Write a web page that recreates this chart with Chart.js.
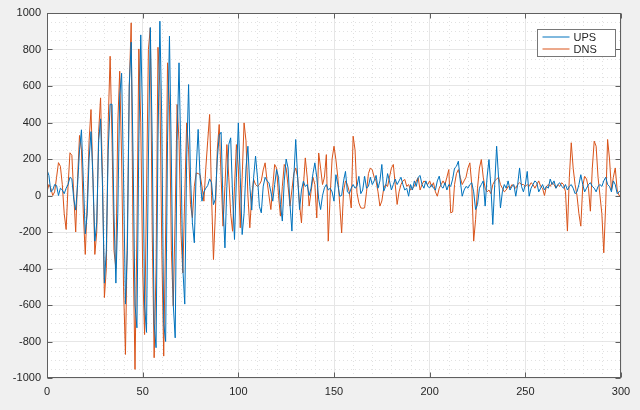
<!DOCTYPE html>
<html lang="en">
<head>
    <meta charset="UTF-8">
    <title>UPS / DNS</title>
    <script src="https://cdn.jsdelivr.net/npm/chart.js"></script>
    <style>
        body {
            margin: 0;
            background: #f0f0f0;
        }
        #wrap {
            width: 640px;
            height: 410px;
        }
    </style>
</head>
<body>
    <div id="wrap">
        <canvas id="sigChart" width="640" height="410"></canvas>
    </div>

    <script>
        // series values, one per sample 0..300
        const ups = [
            140, 110, 20, 30, 60, 55, 0, 40, 30, 10,
            40, 60, 100, 90, -20, -80, 60, 250, 360, 80,
            -210, -100, 200, 350, 100, -250, -150, 300, 420, 50,
            -480, -300, 250, 500, 500, -100, -480, -100, 550, 670,
            100, -595, -300, 600, 840, 200, -600, -725, 300, 880,
            400, -600, -750, 200, 920, 300, -700, -834, 300, 955,
            400, -700, -800, 300, 873, 200, -600, -780, 300, 727,
            200, -400, -595, 200, 608, 100, -150, -259, 150, 362,
            100, -31, 20, 40, 55, 91, 70, -50, -20, 200,
            330, 347, -50, -287, 50, 280, 316, 0, -241, 100,
            398, 100, -214, -100, 150, 270, 50, -80, 100, 216,
            100, -60, -95, 50, 100, 80, 70, 20, -31, 60,
            142, 100, -50, -140, 80, 200, 150, -50, -195, 100,
            307, 100, -77, 30, 78, 49, 60, 0, 40, 120,
            179, 100, -20, -77, 0, 42, 60, 30, 40, 20,
            -31, 114, 60, -4, 0, 80, 132, 20, 10, 40,
            60, 40, 50, 105, 10, 30, 105, 40, 50, 100,
            60, 80, 110, 40, 80, 170, 24, 50, 120, 80,
            30, 60, 90, 60, 80, 100, 60, 30, 40, -4,
            60, 30, 80, 50, 100, 110, 60, 40, 80, 50,
            42, 60, 40, 30, 80, 106, 50, 40, 70, 30,
            60, 50, 90, 150, 160, 188, 80, -4, 30, 50,
            40, 60, 70, 20, -77, -50, 40, 60, 80, -58,
            100, 197, 50, -159, 60, 270, 100, -68, 20, 60,
            40, 80, 30, 50, 60, -4, 60, 151, 50, 20,
            60, 132, -4, 40, 60, 80, 70, 20, 40, 60,
            30, 50, 40, 90, 60, 80, 40, 60, 70, 50,
            40, 60, 30, 50, 60, 40, 10, 20, 60, 114,
            60, 20, 40, 60, 70, 50, 40, 20, 50, 60,
            50, 80, 100, 60, 50, 20, 80, 60, 10, 20,
            30
        ];

        const dns = [
            20, 60, 40, 0, 20, 100, 180, 160, 60, -100,
            -186, 50, 234, 220, 0, -200, 100, 329, 250, -100,
            -323, -50, 300, 471, 100, -323, -200, 350, 535, 100,
            -559, -400, 400, 763, 300, -300, -400, 400, 681, 200,
            -500, -871, -200, 600, 946, -300, -953, -200, 803, 400,
            -400, -762, 0, 800, 919, -200, -889, -400, 812, 600,
            -300, -880, -200, 727, 500, -300, -606, -100, 499, 300,
            -200, -424, 0, 398, 250, -50, -122, 50, 124, 120,
            115, 50, -31, 150, 300, 444, 0, -351, -100, 250,
            389, 100, -168, 50, 279, 100, -100, -196, 50, 279,
            150, -177, 100, 398, 300, 0, -177, 0, 88, 60,
            50, 60, 80, 140, 179, 80, 0, -77, 50, 170,
            150, 0, -113, 50, 170, 150, 50, -58, 30, 120,
            151, 100, -50, -150, 50, 206, 100, -58, 20, 100,
            60, -123, 233, 150, 60, 100, 224, -250, 0, 200,
            270, 196, 100, -50, -205, 24, 80, 60, 20, -68,
            325, 250, 15, -40, -68, -70, -68, 20, 120, 151,
            140, 100, 80, 20, -58, -30, 40, 60, 50, 100,
            150, 170, 60, -49, 20, 60, 80, 88, 50, 60,
            30, 40, 50, 80, 97, 30, 60, 80, 70, 60,
            80, 50, 70, 20, -4, 40, 60, 80, 60, 100,
            142, -95, -90, 60, 120, 142, 100, 60, 80, 100,
            150, 179, 60, -250, -132, 40, 150, 197, 100, 40,
            20, 30, 10, 60, 80, 90, 100, 60, 40, 20,
            30, 50, 40, 60, 50, 40, 60, 70, 60, 60,
            50, 60, 50, 70, 60, 40, 60, 80, 50, 40,
            0, 50, 60, 50, 70, 60, 40, 60, 50, 70,
            60, 20, -195, 100, 289, 150, 60, 0, -100, -168,
            50, 105, 90, 40, -86, 150, 298, 270, 100, 0,
            -100, -314, -50, 307, 200, 32, 100, 151, 30, 0,
            0
        ];

        const seriesNames = ['UPS', 'DNS'];
        const seriesColors = ['#0072bd', '#d95319'];

        // axis ranges / tick steps
        const xRange = [0, 300];
        const yRange = [-1000, 1000];
        const xMajor = 50, xMinor = 10;
        const yMajor = 200, yMinor = 50;

        const axisColor = '#5f5f5f';

        // white axes background, dotted minor grid, box + inward ticks, legend
        const matlabAxes = {
            id: 'matlabAxes',
            beforeDraw(chart) {
                const a = chart.chartArea;
                const ctx = chart.ctx;
                ctx.save();
                ctx.fillStyle = '#ffffff';
                ctx.fillRect(a.left, a.top, a.right - a.left, a.bottom - a.top);
                ctx.restore();
            },
            beforeDatasetsDraw(chart) {
                const a = chart.chartArea;
                const ctx = chart.ctx;
                const sx = chart.scales.x, sy = chart.scales.y;
                ctx.save();
                ctx.strokeStyle = '#e1e1e1';
                ctx.lineWidth = 1;
                ctx.setLineDash([1, 3]);
                for (let v = xRange[0]; v <= xRange[1]; v += xMinor) {
                    if (v % xMajor === 0) continue;
                    const px = Math.round(sx.getPixelForValue(v)) + 0.5;
                    ctx.beginPath();
                    ctx.moveTo(px, a.top);
                    ctx.lineTo(px, a.bottom);
                    ctx.stroke();
                }
                for (let v = yRange[0]; v <= yRange[1]; v += yMinor) {
                    if (v % yMajor === 0) continue;
                    const py = Math.round(sy.getPixelForValue(v)) + 0.5;
                    ctx.beginPath();
                    ctx.moveTo(a.left, py);
                    ctx.lineTo(a.right, py);
                    ctx.stroke();
                }
                ctx.restore();
            },
            afterDatasetsDraw(chart) {
                const a = chart.chartArea;
                const ctx = chart.ctx;
                const sx = chart.scales.x, sy = chart.scales.y;
                ctx.save();
                ctx.strokeStyle = axisColor;
                ctx.lineWidth = 1;
                ctx.setLineDash([]);
                const L = Math.round(a.left) + 0.5, R = Math.round(a.right) - 0.5;
                const T = Math.round(a.top) + 0.5, B = Math.round(a.bottom) - 0.5;
                ctx.strokeRect(L, T, R - L, B - T);

                // inward tick marks
                const tl = 5;
                ctx.beginPath();
                for (let v = xRange[0]; v <= xRange[1]; v += xMajor) {
                    const px = Math.round(sx.getPixelForValue(v)) + 0.5;
                    ctx.moveTo(px, B); ctx.lineTo(px, B - tl);
                    ctx.moveTo(px, T); ctx.lineTo(px, T + tl);
                }
                for (let v = yRange[0]; v <= yRange[1]; v += yMajor) {
                    const py = Math.round(sy.getPixelForValue(v)) + 0.5;
                    ctx.moveTo(L, py); ctx.lineTo(L + tl, py);
                    ctx.moveTo(R, py); ctx.lineTo(R - tl, py);
                }
                ctx.stroke();

                // legend box, top right inside the axes
                const bx = 537.5, by = 29.5, bw = 78, bh = 27;
                ctx.fillStyle = '#ffffff';
                ctx.fillRect(bx, by, bw, bh);
                ctx.strokeStyle = '#777777';
                ctx.strokeRect(bx, by, bw, bh);
                ctx.font = '11px "Liberation Sans", Arial, sans-serif';
                ctx.textBaseline = 'middle';
                ctx.textAlign = 'left';
                chart.data.datasets.forEach((ds, i) => {
                    const y = by + 7.5 + i * 12;
                    ctx.strokeStyle = ds.borderColor;
                    ctx.lineWidth = 1;
                    ctx.beginPath();
                    ctx.moveTo(bx + 5, y);
                    ctx.lineTo(bx + 32, y);
                    ctx.stroke();
                    ctx.fillStyle = '#262626';
                    ctx.fillText(ds.label, bx + 36, y + 0.5);
                });
                ctx.restore();
            }
        };

        const tickFont = { family: '"Liberation Sans", Arial, sans-serif', size: 11 };

        new Chart(document.getElementById('sigChart').getContext('2d'), {
            type: 'line',
            data: {
                datasets: [ups, dns].map((vals, i) => ({
                    label: seriesNames[i],
                    data: vals.map((v, k) => ({ x: k, y: v })),
                    borderColor: seriesColors[i],
                    borderWidth: 1,
                    pointRadius: 0,
                    tension: 0,
                    fill: false
                }))
            },
            options: {
                responsive: false,
                animation: false,
                layout: { padding: { left: 0, top: 13, right: 19, bottom: 0 } },
                plugins: {
                    legend: { display: false },
                    tooltip: { enabled: false }
                },
                scales: {
                    x: {
                        type: 'linear',
                        min: xRange[0],
                        max: xRange[1],
                        ticks: {
                            stepSize: xMajor,
                            font: tickFont,
                            color: '#262626',
                            padding: 7,
                            maxRotation: 0,
                            callback: v => String(v)
                        },
                        grid: { color: '#e6e6e6', drawTicks: false },
                        border: { display: false },
                        afterFit(scale) { scale.height = 32; }
                    },
                    y: {
                        min: yRange[0],
                        max: yRange[1],
                        ticks: {
                            stepSize: yMajor,
                            font: tickFont,
                            color: '#262626',
                            padding: 6,
                            callback: v => String(v)
                        },
                        grid: { color: '#e6e6e6', drawTicks: false },
                        border: { display: false },
                        afterFit(scale) { scale.width = 47; }
                    }
                }
            },
            plugins: [matlabAxes]
        });
    </script>
</body>
</html>
